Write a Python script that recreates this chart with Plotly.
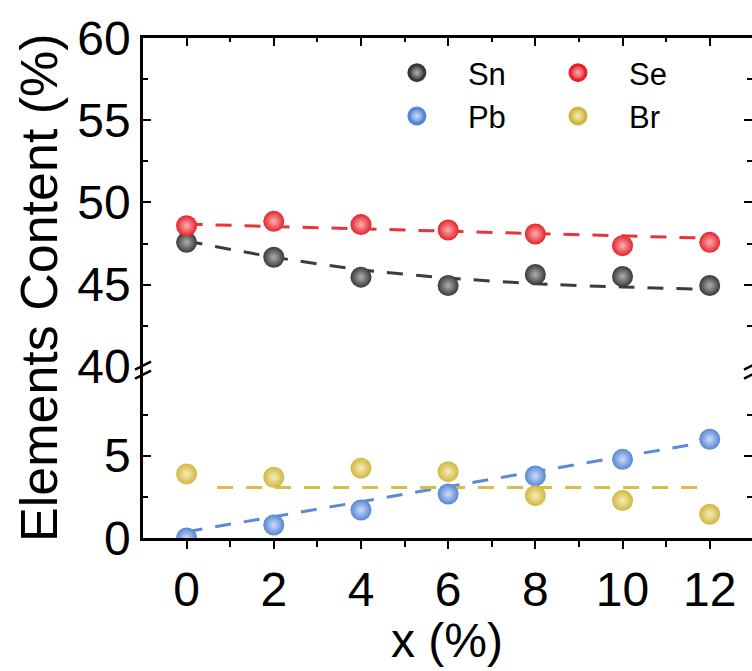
import plotly.graph_objects as go

# ---------------- data ----------------
x_vals = [0, 2, 4, 6, 8, 10, 12]
sn = [47.57, 46.66, 45.45, 44.94, 45.61, 45.49, 44.94]
se = [48.58, 48.85, 48.65, 48.32, 48.08, 47.37, 47.57]
pb = [0.0, 0.79, 1.70, 2.67, 3.77, 4.78, 6.00]
br = [3.89, 3.69, 4.24, 4.03, 2.57, 2.27, 1.44]

# dashed trend lines
sn_fit_x = [0, 2, 4, 6, 8, 10, 12]
sn_fit_y = [47.65, 46.67, 45.9, 45.4, 45.05, 44.85, 44.7]
se_fit_x = [0, 12]
se_fit_y = [48.68, 47.82]
pb_fit_x = [0, 12]
pb_fit_y = [0.38, 5.86]
br_fit_x = [0.7, 12]
br_fit_y = [3.06, 3.06]

x_ticks = [0, 2, 4, 6, 8, 10, 12]
x_minor = [1, 3, 5, 7, 9, 11]
y_low_ticks = [0, 5]
y_low_minor = [2.5, 7.5]
y_up_ticks = [40, 45, 50, 55, 60]
y_up_minor = [42.5, 47.5, 52.5, 57.5]

FONT = "Liberation Sans, Arial, sans-serif"
colors = {"Sn": "#383838", "Se": "#e5222a", "Pb": "#5585d6", "Br": "#d0b640"}
glow = {"Sn": "#b0b0b0", "Se": "#fbb0b0", "Pb": "#cddcf6", "Br": "#f6edb8"}
linecol = {"Sn": "#3c3c3c", "Se": "#e8353a", "Pb": "#5b8ad6", "Br": "#d6be48"}

fig = go.Figure()

# dashed lines
def add_line(xs, ys, name, yaxis):
    fig.add_trace(go.Scatter(x=xs, y=ys, mode="lines", yaxis=yaxis, xaxis="x",
                             line=dict(color=linecol[name], width=3, dash="16px,13px",
                                       shape="spline", smoothing=0.8),
                             showlegend=False, hoverinfo="skip"))

add_line(sn_fit_x, sn_fit_y, "Sn", "y2")
add_line(se_fit_x, se_fit_y, "Se", "y2")
add_line(pb_fit_x, pb_fit_y, "Pb", "y")
add_line(br_fit_x, br_fit_y, "Br", "y")

# markers
def add_pts(ys, name, yaxis):
    fig.add_trace(go.Scatter(x=x_vals, y=ys, mode="markers", yaxis=yaxis, xaxis="x",
                             marker=dict(size=21, color=colors[name],
                                         gradient=dict(type="radial", color=glow[name]),
                                         line=dict(width=0)),
                             showlegend=False, name=name))

add_pts(sn, "Sn", "y2")
add_pts(se, "Se", "y2")
add_pts(pb, "Pb", "y")
add_pts(br, "Br", "y")

# legend entries (no data points)
for name, leg in [("Sn", "legend"), ("Pb", "legend"), ("Se", "legend2"), ("Br", "legend2")]:
    fig.add_trace(go.Scatter(x=[None], y=[None], mode="markers", name=name, legend=leg,
                             marker=dict(size=16, color=colors[name],
                                         gradient=dict(type="radial", color=glow[name]),
                                         line=dict(width=3, color=colors[name])),
                             showlegend=True))

# empty helper traces for mirrored axes
fig.add_trace(go.Scatter(x=[], y=[], xaxis="x2", yaxis="y2", showlegend=False, hoverinfo="skip"))
fig.add_trace(go.Scatter(x=[], y=[], xaxis="x", yaxis="y3", showlegend=False, hoverinfo="skip"))
fig.add_trace(go.Scatter(x=[], y=[], xaxis="x", yaxis="y4", showlegend=False, hoverinfo="skip"))

XR = [-1, 12.97]
LOW_R = [0, 10.41]
UP_R = [40, 60.02]
SPLIT = 0.3428
LW = 2.5
tickfont = dict(family=FONT, size=48, color="black")

fig.update_layout(
    width=752, height=671,
    margin=dict(l=143, r=0, t=38, b=133),
    paper_bgcolor="white", plot_bgcolor="white",
    font=dict(family=FONT, color="black"),
    xaxis=dict(range=XR, anchor="y", tickvals=x_ticks, ticks="outside", ticklen=8, tickwidth=2,
               tickcolor="black", showline=True, linewidth=LW, linecolor="black",
               showgrid=False, zeroline=False, tickfont=tickfont, ticklabelstandoff=0,
               minor=dict(tickvals=x_minor, ticks="outside", ticklen=6, tickwidth=2, tickcolor="black")),
    xaxis2=dict(range=XR, overlaying="x", side="top", anchor="y2", tickvals=x_ticks,
                ticks="inside", ticklen=8, tickwidth=2, tickcolor="black", showticklabels=False,
                showline=True, linewidth=LW, linecolor="black", showgrid=False, zeroline=False,
                minor=dict(tickvals=x_minor, ticks="inside", ticklen=4, tickwidth=2, tickcolor="black")),
    yaxis=dict(domain=[0, SPLIT], range=LOW_R, anchor="x", tickvals=y_low_ticks, ticks="inside",
               ticklen=8, tickwidth=2, tickcolor="black", showline=True, linewidth=LW,
               linecolor="black", showgrid=False, zeroline=False, tickfont=tickfont,
               ticklabelstandoff=0,
               minor=dict(tickvals=y_low_minor, ticks="inside", ticklen=5, tickwidth=2, tickcolor="black")),
    yaxis2=dict(domain=[SPLIT, 1], range=UP_R, anchor="x", tickvals=y_up_ticks, ticks="inside",
                ticklen=8, tickwidth=2, tickcolor="black", showline=True, linewidth=LW,
                linecolor="black", showgrid=False, zeroline=False, tickfont=tickfont,
                ticklabelstandoff=0,
                minor=dict(tickvals=y_up_minor, ticks="inside", ticklen=5, tickwidth=2, tickcolor="black")),
    yaxis3=dict(range=LOW_R, overlaying="y", side="right", anchor="x", tickvals=y_low_ticks,
                ticks="inside", ticklen=8, tickwidth=2, tickcolor="black", showticklabels=False,
                showline=False, showgrid=False, zeroline=False,
                minor=dict(tickvals=y_low_minor, ticks="inside", ticklen=5, tickwidth=2, tickcolor="black")),
    yaxis4=dict(range=UP_R, overlaying="y2", side="right", anchor="x", tickvals=y_up_ticks,
                ticks="inside", ticklen=8, tickwidth=2, tickcolor="black", showticklabels=False,
                showline=False, showgrid=False, zeroline=False,
                minor=dict(tickvals=y_up_minor, ticks="inside", ticklen=5, tickwidth=2, tickcolor="black")),
    legend=dict(x=0.366, y=0.984, xanchor="left", yanchor="top", bgcolor="rgba(0,0,0,0)",
                itemwidth=92, font=dict(family=FONT, size=31, color="black"), tracegroupgap=0),
    legend2=dict(x=0.6305, y=0.984, xanchor="left", yanchor="top", bgcolor="rgba(0,0,0,0)",
                 itemwidth=92, font=dict(family=FONT, size=31, color="black"), tracegroupgap=0),
    showlegend=True,
)

# axis titles
fig.add_annotation(text="Elements Content (%)", xref="paper", yref="paper",
                   x=-0.1708, y=0.502, xanchor="center", yanchor="middle", textangle=-90,
                   showarrow=False, font=dict(family=FONT, size=52, color="black"))
fig.add_annotation(text="x (%)", xref="paper", yref="paper",
                   x=0.499, y=-0.148, xanchor="center", yanchor="top",
                   showarrow=False, font=dict(family=FONT, size=48, color="black"))

# axis-break marks
for xa in [0, 1]:
    for (y0, y1) in [(-3, 5), (-12, -4)]:
        fig.add_shape(type="line", xref="paper", yref="paper", xsizemode="pixel", ysizemode="pixel",
                      xanchor=xa, yanchor=SPLIT, x0=-8, x1=8, y0=y0, y1=y1,
                      line=dict(color="black", width=2.5))

fig.write_html("out.html")
